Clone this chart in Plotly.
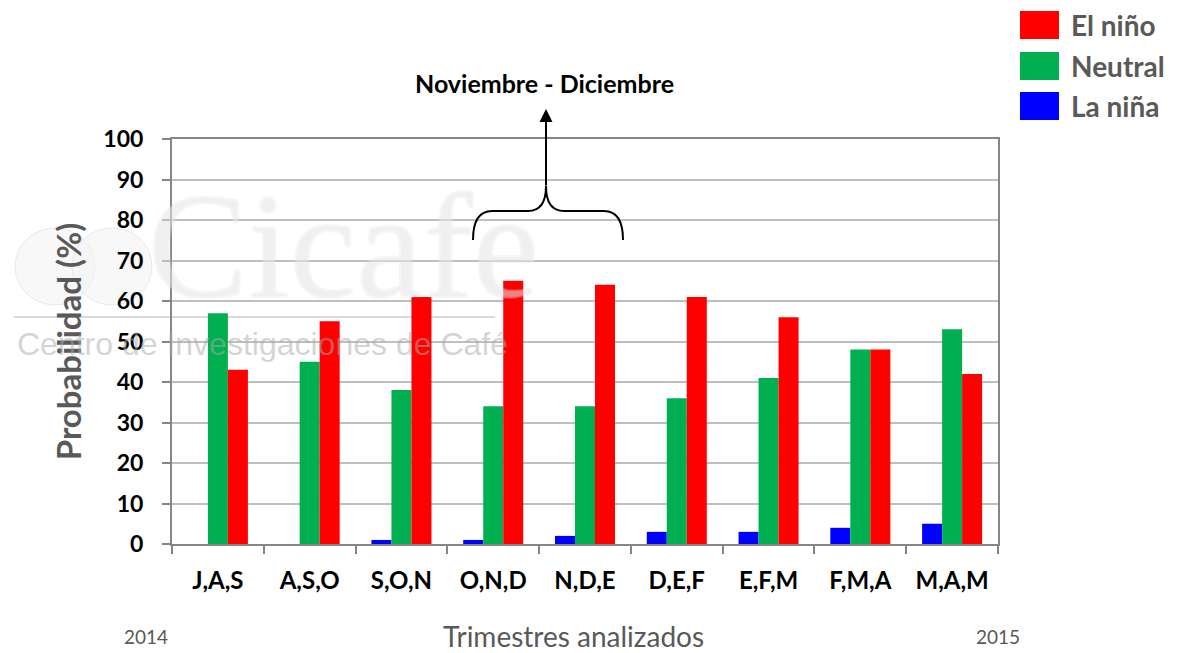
import plotly.graph_objects as go

categories = ["J,A,S", "A,S,O", "S,O,N", "O,N,D", "N,D,E", "D,E,F", "E,F,M", "F,M,A", "M,A,M"]
la_nina = [0, 0, 1, 1, 2, 3, 3, 4, 5]
neutral = [57, 45, 38, 34, 34, 36, 41, 48, 53]
el_nino = [43, 55, 61, 65, 64, 61, 56, 48, 42]
y_ticks = list(range(0, 101, 10))

OFF = 8  # page body margin
W, H = 1185 - OFF, 653 - OFF
L, R, T, B = 172 - OFF, 998 - OFF, 139 - OFF, 544 - OFF


def px(x):
    return (x - OFF - L) / (R - L)


def py(y):
    return (B - (y - OFF)) / (B - T)


FONT = "Lato"
GRAY = "#595959"

fig = go.Figure()
fig.add_trace(go.Bar(x=categories, y=la_nina, name="La niña", marker_color="#0000FF", marker_line_width=0))
fig.add_trace(go.Bar(x=categories, y=neutral, name="Neutral", marker_color="#00B050", marker_line_width=0))
fig.add_trace(go.Bar(x=categories, y=el_nino, name="El niño", marker_color="#FF0000", marker_line_width=0))

shapes = []
annotations = []

# watermark
shapes.append(dict(type="circle", xref="paper", yref="paper", layer="below",
                   x0=px(15), x1=px(95), y0=py(305), y1=py(228),
                   fillcolor="rgba(242,242,242,0.5)", line=dict(color="rgba(228,228,228,0.8)", width=1)))
shapes.append(dict(type="circle", xref="paper", yref="paper", layer="below",
                   x0=px(72), x1=px(152), y0=py(305), y1=py(228),
                   fillcolor="rgba(242,242,242,0.5)", line=dict(color="rgba(228,228,228,0.8)", width=1)))
shapes.append(dict(type="line", xref="paper", yref="paper", layer="below",
                   x0=px(14), x1=px(495), y0=py(317), y1=py(317),
                   line=dict(color="rgba(215,215,215,0.9)", width=2)))
annotations.append(dict(text="Cicafe", xref="paper", yref="paper", x=px(343), y=py(246),
                        showarrow=False, xanchor="center", yanchor="middle",
                        font=dict(family="Liberation Serif", size=150, color="rgba(252,252,252,0.25)",
                                  shadow="1px 1px 0 rgba(215,215,215,0.5), -1px -1px 0 rgba(215,215,215,0.5), 1px -1px 0 rgba(215,215,215,0.5), -1px 1px 0 rgba(215,215,215,0.5)")))
annotations.append(dict(text="Centro de Investigaciones de Café", xref="paper", yref="paper", x=px(262), y=py(344),
                        showarrow=False, xanchor="center", yanchor="middle",
                        font=dict(family="Liberation Sans", size=32, color="rgba(170,170,170,0.5)")))

# brace
path = (f"M {px(473)},{py(240)} Q {px(473)},{py(211)} {px(492)},{py(211)} "
        f"L {px(528)},{py(211)} Q {px(546)},{py(211)} {px(546)},{py(186)} "
        f"Q {px(546)},{py(211)} {px(564)},{py(211)} "
        f"L {px(604)},{py(211)} Q {px(623)},{py(211)} {px(623)},{py(240)}")
shapes.append(dict(type="path", xref="paper", yref="paper", path=path, line=dict(color="black", width=2)))
annotations.append(dict(text="", xref="paper", yref="paper", x=px(546), y=py(109), ax=0, ay=78,
                        showarrow=True, arrowhead=2, arrowsize=1.3, arrowwidth=2, arrowcolor="black", standoff=0))
annotations.append(dict(text="Noviembre - Diciembre", xref="paper", yref="paper", x=px(544), y=py(83),
                        showarrow=False, xanchor="center", yanchor="middle",
                        font=dict(family=FONT, size=25, color="black", weight="bold")))

# legend
leg = [("El niño", "#FF0000", 25), ("Neutral", "#00B050", 66), ("La niña", "#0000FF", 106)]
for name, col, yc in leg:
    shapes.append(dict(type="rect", xref="paper", yref="paper", x0=px(1020), x1=px(1059),
                       y0=py(yc + 14), y1=py(yc - 14), fillcolor=col, line_width=0))
    annotations.append(dict(text=name, xref="paper", yref="paper", x=px(1069), y=py(yc),
                            showarrow=False, xanchor="left", yanchor="middle",
                            font=dict(family=FONT, size=28, color=GRAY, weight="bold")))

# bottom texts
annotations.append(dict(text="Trimestres analizados", xref="paper", yref="paper", x=px(573), y=py(636),
                        showarrow=False, xanchor="center", yanchor="middle",
                        font=dict(family=FONT, size=28, color=GRAY)))
annotations.append(dict(text="2014", xref="paper", yref="paper", x=px(146), y=py(636),
                        showarrow=False, xanchor="center", yanchor="middle",
                        font=dict(family=FONT, size=19, color=GRAY)))
annotations.append(dict(text="2015", xref="paper", yref="paper", x=px(998), y=py(636),
                        showarrow=False, xanchor="center", yanchor="middle",
                        font=dict(family=FONT, size=19, color=GRAY)))

fig.update_layout(
    width=W, height=H,
    margin=dict(l=L, r=W - R, t=T, b=H - B, pad=0),
    paper_bgcolor="white", plot_bgcolor="white",
    barmode="group", bargap=0.346, bargroupgap=0,
    showlegend=False,
    shapes=shapes, annotations=annotations,
    xaxis=dict(
        type="category", tickson="boundaries", ticks="outside", ticklen=8, tickcolor="#868686", tickwidth=2,
        showline=True, linecolor="#868686", linewidth=2, mirror=True, showgrid=False,
        tickfont=dict(family=FONT, size=24, color="black", weight="bold"), ticklabelstandoff=14,
    ),
    yaxis=dict(
        range=[0, 100], tickvals=y_ticks, ticks="outside", ticklen=8, tickcolor="#868686", tickwidth=2,
        showline=True, linecolor="#868686", linewidth=2, mirror=True,
        showgrid=True, gridcolor="#BFBFBF", gridwidth=2, zeroline=False,
        tickfont=dict(family=FONT, size=23, color="black", weight="bold"), ticklabelstandoff=14,
        title=dict(text="Probabilidad (%)", font=dict(family=FONT, size=33, color=GRAY, weight="bold"), standoff=12),
    ),
)

fig.write_html("out.html")
